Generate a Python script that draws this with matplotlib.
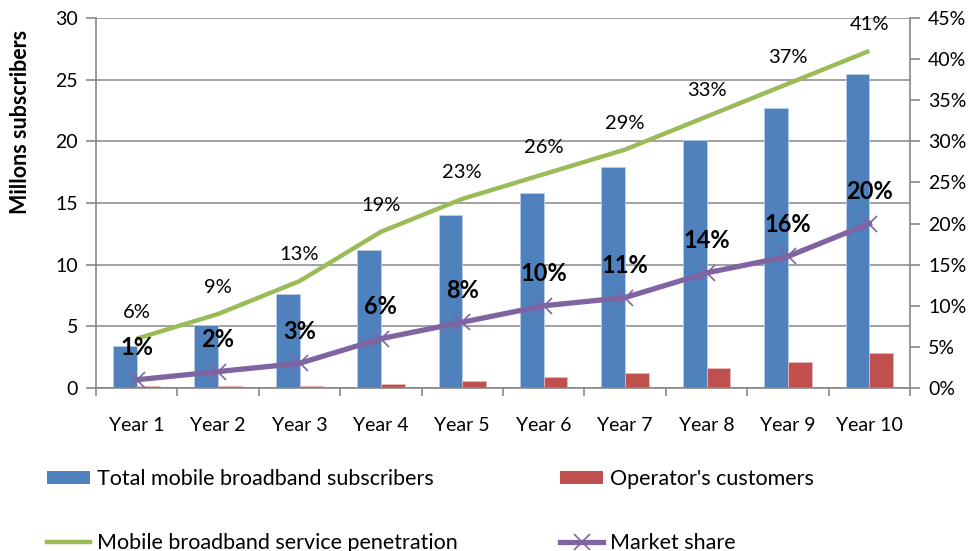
import numpy as np
import matplotlib
matplotlib.use('Agg')
from matplotlib import pyplot as plt
from matplotlib.ticker import FuncFormatter, MultipleLocator, FixedLocator
from matplotlib.lines import Line2D
from matplotlib.patches import Patch

plt.rc('font', family=['Lato', 'DejaVu Sans'])

# data
years = ['Year 1', 'Year 2', 'Year 3', 'Year 4', 'Year 5',
         'Year 6', 'Year 7', 'Year 8', 'Year 9', 'Year 10']
total_subs = [3.4, 5.1, 7.6, 11.2, 14.0, 15.8, 17.9, 20.1, 22.7, 25.5]
operator_subs = [0.14, 0.14, 0.15, 0.33, 0.6, 0.9, 1.2, 1.6, 2.1, 2.8]
penetration = [6, 9, 13, 19, 23, 26, 29, 33, 37, 41]
market_share = [1, 2, 3, 6, 8, 10, 11, 14, 16, 20]

BLUE = '#4F81BD'
RED = '#C0504D'
GREEN = '#9BBB59'
PURPLE = '#8064A2'
GRID = '#878787'

W, H = 974, 551
fig = plt.figure(figsize=(W / 100, H / 100), dpi=100)
ax = fig.add_axes([96 / W, 1 - 388 / H, (910 - 96) / W, (388 - 18) / H])

x = np.arange(len(years))
bw = 0.29
ax.bar(x - bw / 2, total_subs, bw, color=BLUE, edgecolor='#b9cde5', linewidth=0.6, zorder=2)
ax.bar(x + bw / 2, operator_subs, bw, color=RED, edgecolor='#e6b9b8', linewidth=0.6, zorder=2)

ax.set_xlim(-0.5, len(years) - 0.5)
ax.set_ylim(0, 30)
ax.yaxis.set_major_locator(MultipleLocator(5))
ax.grid(axis='y', color=GRID, linewidth=1.1, zorder=0)
ax.set_axisbelow(True)

ax.set_xticks(x)
ax.set_xticklabels(years)
ax.xaxis.set_minor_locator(FixedLocator(np.arange(-0.5, len(years), 1.0)))
ax.tick_params(axis='x', which='major', length=0, pad=21, labelsize=14)
ax.tick_params(axis='x', which='minor', length=6, color=GRID, width=1.2)
ax.tick_params(axis='y', length=7, color=GRID, width=1.2, labelsize=14, pad=6)

for side in ['top', 'right']:
    ax.spines[side].set_visible(False)
for side in ['left', 'bottom']:
    ax.spines[side].set_color(GRID)
    ax.spines[side].set_linewidth(1.2)

ax.set_ylabel('Millons subscribers', fontsize=15.5, fontweight='bold')
ax.yaxis.set_label_coords(-0.08, 0.72)

# percentage axis
ax2 = ax.twinx()
ax2.set_ylim(0, 45)
ax2.yaxis.set_major_locator(MultipleLocator(5))
ax2.yaxis.set_major_formatter(FuncFormatter(lambda v, p: '%d%%' % round(v)))
ax2.tick_params(axis='y', length=7, color=GRID, width=1.2, labelsize=14, pad=6)
for side in ['top', 'left', 'bottom']:
    ax2.spines[side].set_visible(False)
ax2.spines['right'].set_color(GRID)
ax2.spines['right'].set_linewidth(1.2)

ax2.plot(x, penetration, color=GREEN, linewidth=3.2, solid_capstyle='butt', zorder=3)
ax2.plot(x, market_share, color=PURPLE, linewidth=3.8, marker='x', markersize=12,
         markeredgewidth=1.2, zorder=4)

for xi, v in zip(x, penetration):
    ax2.annotate('%d%%' % v, (xi, v), xytext=(0, 19), textcoords='offset points',
                 ha='center', va='center', fontsize=14.5)
for xi, v in zip(x, market_share):
    ax2.annotate('%d%%' % v, (xi, v), xytext=(0, 23), textcoords='offset points',
                 ha='center', va='center', fontsize=17, fontweight='bold')

# legend below the plot, two columns
h_blue = Patch(facecolor=BLUE, edgecolor='none')
h_red = Patch(facecolor=RED, edgecolor='none')
h_green = Line2D([], [], color=GREEN, linewidth=3.2)
h_purple = Line2D([], [], color=PURPLE, linewidth=3.8, marker='x', markersize=12,
                  markeredgewidth=1.2)
leg_kw = dict(loc='upper left', frameon=False, fontsize=15.5, borderpad=0,
              borderaxespad=0, handlelength=2.0, handleheight=0.6,
              handletextpad=0.3, labelspacing=2.05)
leg1 = fig.legend([h_blue, h_green],
                  ['Total mobile broadband subscribers', 'Mobile broadband service penetration'],
                  bbox_to_anchor=(47 / W, 1 - 469 / H), **leg_kw)
leg2 = fig.legend([h_red, h_purple], ["Operator's customers", 'Market share'],
                  bbox_to_anchor=(560 / W, 1 - 469 / H), **leg_kw)

fig.savefig('out.png', dpi=100)
